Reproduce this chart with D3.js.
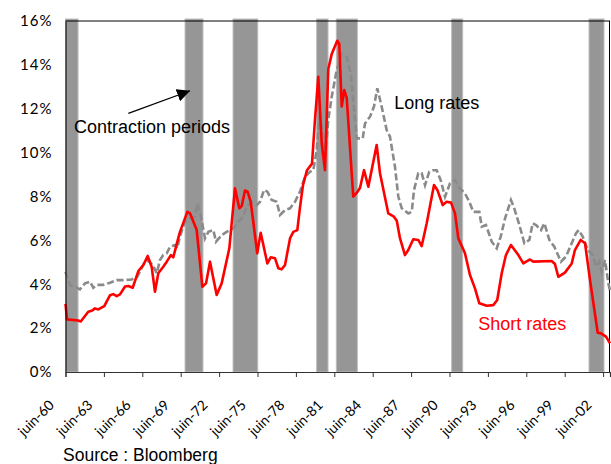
<!DOCTYPE html>
<html>
<head>
<meta charset="utf-8">
<script src="https://cdn.jsdelivr.net/npm/d3@7"></script>
<style>
  body { margin: 0; background: #fff; }
  svg { display: block; }
</style>
</head>
<body>
<svg id="chart" width="611" height="464"></svg>
<script>
// decimal years, percent
const shortRates = [
  [1960.42, 3.1], [1960.54, 2.4], [1961.40, 2.35], [1961.61, 2.3], [1962.20, 2.75], [1962.51, 2.8],
  [1962.72, 2.9], [1962.98, 2.85], [1963.45, 3.0], [1963.90, 3.5], [1964.15, 3.55], [1964.42, 3.46],
  [1964.68, 3.54], [1965.07, 3.9], [1965.33, 3.92], [1965.67, 3.84], [1966.11, 4.6], [1966.50, 4.88],
  [1966.84, 5.29], [1967.15, 4.8], [1967.41, 3.66], [1967.67, 4.5], [1968.06, 4.8], [1968.33, 5.03],
  [1968.66, 5.33], [1968.84, 5.23], [1969.23, 6.1], [1969.37, 6.4], [1969.94, 7.3], [1970.15, 7.23],
  [1970.67, 6.47], [1971.11, 3.89], [1971.40, 4.04], [1971.71, 5.03], [1972.23, 3.51], [1972.62, 4.04],
  [1973.22, 5.64], [1973.66, 8.37], [1974.00, 7.46], [1974.19, 7.57], [1974.44, 8.27], [1974.65, 8.22],
  [1974.89, 7.76], [1975.09, 6.85], [1975.40, 5.41], [1975.67, 6.35], [1976.19, 4.95], [1976.45, 5.23],
  [1976.79, 5.18], [1977.05, 4.73], [1977.31, 4.68], [1977.57, 4.88], [1977.96, 6.09], [1978.22, 6.39],
  [1978.53, 6.47], [1978.74, 7.5], [1978.97, 8.5], [1979.29, 9.2], [1979.68, 9.5], [1979.91, 11.5],
  [1980.17, 13.46], [1980.44, 10.4], [1980.69, 9.2], [1980.95, 13.8], [1981.22, 14.5], [1981.65, 15.1],
  [1981.81, 14.95], [1982.00, 12.1], [1982.20, 12.85], [1982.39, 12.5], [1982.90, 8.0], [1983.22, 8.2],
  [1983.43, 8.4], [1983.74, 9.2], [1984.08, 8.45], [1984.73, 10.35], [1984.99, 9.06], [1985.64, 7.23],
  [1986.08, 7.08], [1986.30, 6.9], [1986.55, 6.1], [1986.94, 5.33], [1987.20, 5.56], [1987.59, 6.05],
  [1987.98, 6.02], [1988.25, 5.74], [1988.64, 6.78], [1989.21, 8.52], [1989.47, 8.3], [1989.89, 7.61],
  [1990.20, 7.76], [1990.54, 7.72], [1990.85, 7.23], [1991.11, 6.09], [1991.63, 5.41], [1992.02, 4.42],
  [1992.41, 3.81], [1992.75, 3.13], [1993.33, 3.02], [1993.84, 3.05], [1994.15, 3.28], [1994.50, 4.5],
  [1994.83, 5.33], [1995.22, 5.79], [1995.80, 5.33], [1996.19, 4.95], [1996.71, 5.13], [1996.97, 5.03],
  [1998.40, 5.06], [1998.66, 4.92], [1998.92, 4.34], [1999.44, 4.53], [1999.97, 4.95], [2000.22, 5.56],
  [2000.67, 6.02], [2001.01, 5.87], [2001.40, 4.19], [2002.00, 1.79], [2002.26, 1.76], [2002.65, 1.61],
  [2002.96, 1.31]
];

const longRates = [
  [1960.42, 4.57], [1960.77, 3.97], [1961.16, 3.89], [1961.55, 3.77], [1961.94, 4.04], [1962.33, 4.12],
  [1962.59, 3.84], [1962.86, 3.97], [1963.37, 3.97], [1963.90, 4.07], [1964.42, 4.19], [1964.94, 4.19],
  [1965.59, 4.22], [1966.03, 4.34], [1966.37, 4.73], [1966.63, 5.03], [1966.89, 5.07], [1967.23, 4.88],
  [1967.55, 4.5], [1967.80, 5.1], [1968.06, 5.33], [1968.33, 5.41], [1968.59, 5.71], [1968.98, 5.79],
  [1969.15, 5.64], [1969.37, 6.2], [1969.76, 6.85], [1970.15, 7.0], [1970.54, 7.08], [1970.72, 7.69],
  [1970.98, 7.16], [1971.32, 6.09], [1971.58, 6.39], [1971.97, 6.47], [1972.18, 5.94], [1972.62, 6.24],
  [1973.01, 6.39], [1973.53, 6.55], [1973.92, 6.85], [1974.31, 7.08], [1974.58, 7.53], [1974.97, 7.76],
  [1975.36, 7.61], [1975.62, 7.76], [1975.93, 8.3], [1976.19, 8.22], [1976.53, 7.84], [1976.92, 7.76],
  [1977.18, 7.16], [1977.57, 7.38], [1977.96, 7.46], [1978.35, 7.76], [1978.74, 8.22], [1979.13, 8.9],
  [1979.52, 9.13], [1979.78, 9.2], [1980.04, 10.1], [1980.30, 11.9], [1980.48, 11.03], [1980.69, 9.66],
  [1980.95, 11.5], [1981.22, 12.55], [1981.61, 13.76], [1982.00, 14.5], [1982.39, 14.37], [1982.70, 13.6],
  [1983.04, 11.5], [1983.17, 10.65], [1983.64, 10.65], [1983.82, 11.33], [1984.21, 11.64], [1984.52, 12.1],
  [1984.78, 12.93], [1985.12, 12.1], [1985.51, 11.03], [1985.77, 10.73], [1986.16, 9.36], [1986.42, 8.0],
  [1986.69, 7.46], [1987.20, 7.23], [1987.47, 7.3], [1987.65, 8.3], [1987.98, 9.06], [1988.25, 9.06],
  [1988.51, 8.52], [1988.84, 9.13], [1989.15, 9.2], [1989.42, 9.2], [1989.73, 8.75], [1990.07, 7.99],
  [1990.46, 8.6], [1990.85, 8.75], [1991.24, 8.37], [1991.63, 8.14], [1991.97, 7.76], [1992.28, 7.3],
  [1992.75, 7.3], [1992.94, 6.62], [1993.27, 6.7], [1993.72, 5.94], [1994.11, 5.64], [1994.42, 6.17],
  [1994.76, 7.0], [1995.22, 7.84], [1995.48, 7.46], [1995.88, 6.7], [1996.27, 5.87], [1996.66, 6.02],
  [1996.92, 6.78], [1997.18, 6.7], [1997.57, 6.47], [1997.83, 6.78], [1998.22, 6.02], [1998.61, 5.71],
  [1999.13, 5.03], [1999.52, 5.26], [1999.91, 5.79], [2000.30, 6.32], [2000.51, 6.47], [2000.83, 6.17],
  [2001.22, 5.56], [2001.61, 5.33], [2001.87, 4.8], [2002.12, 5.03], [2002.31, 4.57], [2002.57, 5.1],
  [2002.83, 4.04], [2002.96, 3.7]
];

// contraction periods [start, end]
const contractions = [
  [1960.42, 1961.40], [1969.76, 1971.16], [1973.51, 1975.44], [1980.04, 1980.93],
  [1981.58, 1983.22], [1990.59, 1991.45], [2001.32, 2002.49]
];

const tickYears = [1960.42, 1963.42, 1966.42, 1969.42, 1972.42, 1975.42, 1978.42, 1981.42,
                   1984.42, 1987.42, 1990.42, 1993.42, 1996.42, 1999.42, 2002.42];
const tickLabels = ["juin-60", "juin-63", "juin-66", "juin-69", "juin-72", "juin-75", "juin-78", "juin-81",
                    "juin-84", "juin-87", "juin-90", "juin-93", "juin-96", "juin-99", "juin-02"];
const yTicks = [0, 2, 4, 6, 8, 10, 12, 14, 16];

const margin = {top: 21, right: 1, bottom: 92, left: 65.5};
const W = 611, H = 464;

const svg = d3.select('#chart');

const x = d3.scaleLinear()
  .domain([1960.42, 2002.96])
  .range([margin.left, W - margin.right]);

const y = d3.scaleLinear()
  .domain([0, 16])
  .range([H - margin.bottom, margin.top]);

// contraction bars
svg.append('g')
  .selectAll('rect')
  .data(contractions)
  .join('rect')
    .attr('x', d => x(d[0]))
    .attr('y', y(16) - 2)
    .attr('width', d => x(d[1]) - x(d[0]))
    .attr('height', y(0) - y(16) + 2)
    .attr('fill', '#969696')
    .attr('stroke', '#bdbdbd')
    .attr('stroke-width', 1);

// frame top / right
svg.append('line')
  .attr('x1', x.range()[0]).attr('x2', x.range()[1])
  .attr('y1', y(16)).attr('y2', y(16))
  .attr('stroke', '#000');
svg.append('line')
  .attr('x1', x.range()[1] - 0.5).attr('x2', x.range()[1] - 0.5)
  .attr('y1', y(16)).attr('y2', y(0))
  .attr('stroke', '#000');

const line = d3.line()
  .x(d => x(d[0]))
  .y(d => y(d[1]));

svg.append('path')
  .datum(longRates)
  .attr('d', line)
  .attr('fill', 'none')
  .attr('stroke', '#8a8a8a')
  .attr('stroke-width', 2.6)
  .attr('stroke-dasharray', '7,3');

svg.append('path')
  .datum(shortRates)
  .attr('d', line)
  .attr('fill', 'none')
  .attr('stroke', '#ff0000')
  .attr('stroke-width', 2.6)
  .attr('stroke-linejoin', 'round');

// y axis
const yAxis = svg.append('g')
  .attr('transform', `translate(${margin.left},0)`)
  .call(d3.axisLeft(y).tickValues(yTicks).tickSize(0).tickPadding(13).tickFormat(d => d + '%'));
yAxis.select('.domain').attr('stroke', '#000');
yAxis.selectAll('text')
  .attr('font-family', 'Lato, sans-serif')
  .attr('font-size', 15)
  .attr('letter-spacing', 1)
  .attr('fill', '#000');

// x axis
const xAxis = svg.append('g')
  .attr('transform', `translate(0,${y(0)})`)
  .call(d3.axisBottom(x).tickValues(tickYears).tickSize(5).tickFormat((d, i) => tickLabels[i]));
xAxis.select('.domain').attr('stroke', '#333').attr('stroke-width', 1.2);
xAxis.selectAll('.tick line').attr('stroke', '#333');
xAxis.selectAll('text')
  .attr('x', 0).attr('y', 0).attr('dy', 0)
  .attr('text-anchor', 'end')
  .attr('transform', 'translate(-11,34) rotate(-45)')
  .attr('font-family', 'Lato, sans-serif')
  .attr('font-size', 14)
  .attr('fill', '#000');

// annotations
const labelFont = '"Liberation Sans", Arial, sans-serif';

svg.append('defs').append('marker')
  .attr('id', 'arrow')
  .attr('viewBox', '0 0 10 10')
  .attr('refX', 10).attr('refY', 5)
  .attr('markerWidth', 13).attr('markerHeight', 13)
  .attr('markerUnits', 'userSpaceOnUse')
  .attr('orient', 'auto')
  .append('path')
    .attr('d', 'M0,0 L10,5 L0,10 Z')
    .attr('fill', '#000');

svg.append('line')
  .attr('x1', x(1965.33)).attr('y1', y(11.79))
  .attr('x2', x(1970.15)).attr('y2', y(12.82))
  .attr('stroke', '#000')
  .attr('stroke-width', 1.3)
  .attr('marker-end', 'url(#arrow)');

svg.append('text')
  .attr('x', x(1961.08)).attr('y', y(10.89))
  .attr('font-family', labelFont).attr('font-size', 18)
  .text('Contraction periods');

svg.append('text')
  .attr('x', x(1986.11)).attr('y', y(11.99))
  .attr('font-family', labelFont).attr('font-size', 18)
  .text('Long rates');

svg.append('text')
  .attr('x', x(1992.67)).attr('y', y(1.91))
  .attr('font-family', labelFont).attr('font-size', 18)
  .attr('fill', '#ff0000')
  .text('Short rates');

svg.append('text')
  .attr('x', 63).attr('y', 461)
  .attr('font-family', labelFont).attr('font-size', 17.5)
  .text('Source : Bloomberg');
</script>
</body>
</html>
